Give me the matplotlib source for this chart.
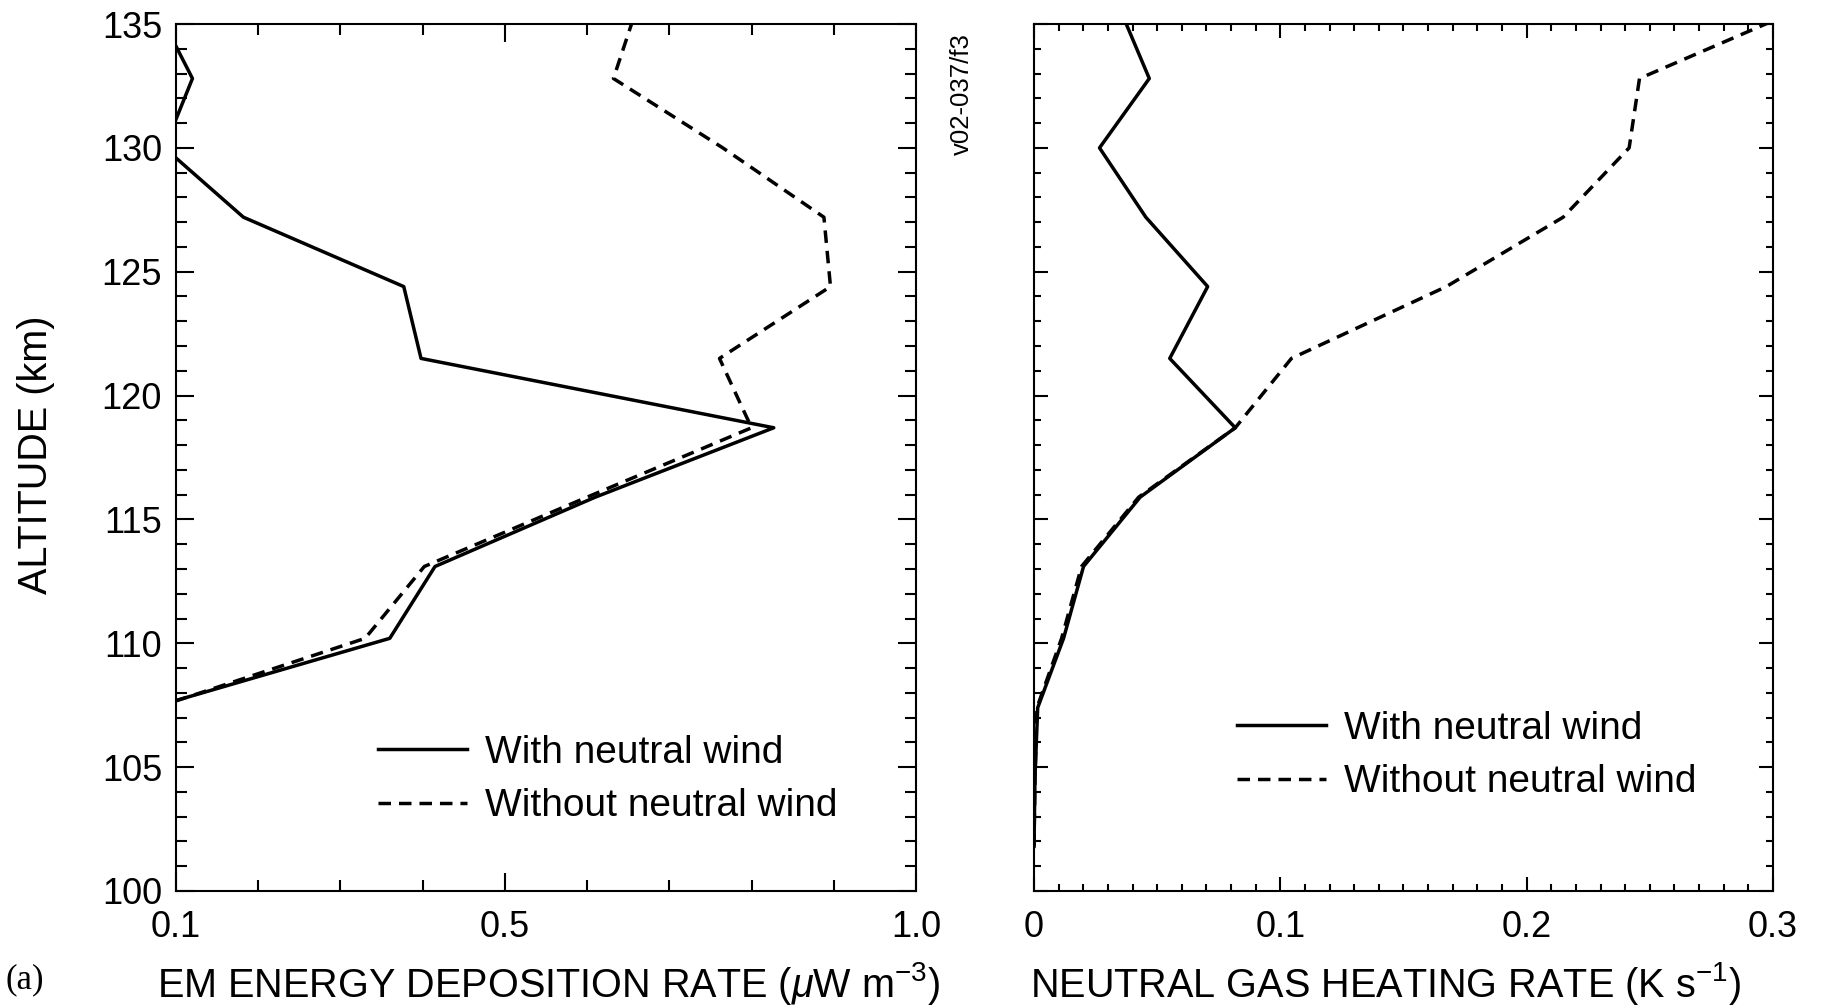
import matplotlib
matplotlib.use("Agg")
import matplotlib.pyplot as plt
from matplotlib.ticker import FixedLocator, MultipleLocator, FixedFormatter

plt.rcParams['font.family'] = ['Liberation Sans', 'DejaVu Sans']
plt.rcParams['mathtext.fontset'] = 'custom'
plt.rcParams['mathtext.rm'] = 'Liberation Sans'
plt.rcParams['mathtext.it'] = 'Liberation Sans:italic'

# altitude grid (km)
alt_em = [107.4, 110.2, 113.1, 115.9, 118.7, 121.5, 124.4, 127.2, 130.0, 132.8, 135.6]
alt_heat = [101.8, 104.6, 107.4, 110.2, 113.1, 115.9, 118.7, 121.5, 124.4, 127.2, 130.0, 132.8, 135.6]

# EM energy deposition rate (uW m-3)
em_wind = [0.07, 0.36, 0.415, 0.61, 0.827, 0.398, 0.377, 0.182, 0.086, 0.12, 0.077]
em_nowind = [0.075, 0.33, 0.402, 0.60, 0.80, 0.761, 0.896, 0.888, 0.765, 0.632, 0.66]

# neutral gas heating rate (K s-1)
heat_wind = [0.0, 0.0004, 0.0015, 0.012, 0.0201, 0.0431, 0.0817, 0.0551, 0.0705, 0.0454, 0.0266, 0.0468, 0.0349]
heat_nowind = [0.0, 0.0004, 0.0012, 0.0112, 0.0193, 0.0425, 0.0817, 0.1045, 0.1674, 0.2148, 0.2416, 0.2458, 0.311]

labels = ["With neutral wind", "Without neutral wind"]

W, H = 1833, 1006
fig = plt.figure(figsize=(W / 100, H / 100), dpi=100)

ax1 = fig.add_axes([176 / W, 1 - 891 / H, 740 / W, 867 / H])
ax2 = fig.add_axes([1034 / W, 1 - 891 / H, 739 / W, 867 / H])

lw = 2.5
dash = (0, (3.6, 2.3))
tick_fs = 26
label_fs = 28.5
leg_fs = 28

# left panel
ax1.plot(em_wind, alt_em, color='black', lw=lw, label=labels[0])
ax1.plot(em_nowind, alt_em, color='black', lw=lw, linestyle=dash, label=labels[1])
ax1.set_xlim(0.1, 1.0)
ax1.set_ylim(100, 135)
ax1.xaxis.set_major_locator(FixedLocator([0.1, 0.5, 1.0]))
ax1.xaxis.set_major_formatter(FixedFormatter(["0.1", "0.5", "1.0"]))
ax1.xaxis.set_minor_locator(FixedLocator([0.2, 0.3, 0.4, 0.6, 0.7, 0.8, 0.9]))
ax1.yaxis.set_major_locator(MultipleLocator(5))
ax1.yaxis.set_minor_locator(MultipleLocator(1))
ax1.tick_params(which='both', direction='in', top=True, right=True, width=1.5)
ax1.tick_params(which='major', length=13, labelsize=tick_fs)
ax1.tick_params(which='minor', length=8)
ax1.tick_params(axis='x', which='major', pad=14)
ax1.tick_params(axis='y', which='major', pad=10)
ax1.set_xlabel(r"EM ENERGY DEPOSITION RATE ($\mu$W m$^{-3}$)", fontsize=label_fs)
ax1.xaxis.set_label_coords(0.504, -0.08)
ax1.set_ylabel("ALTITUDE (km)", fontsize=label_fs)
ax1.yaxis.set_label_coords(-0.163, 0.503)
ax1.legend(loc='center left', bbox_to_anchor=(378 / W, 1 - 779.5 / H),
           bbox_transform=fig.transFigure, frameon=False, fontsize=leg_fs,
           handlelength=2.3, handletextpad=0.45, borderpad=0, borderaxespad=0,
           labelspacing=0.45)

# right panel
ax2.plot(heat_wind, alt_heat, color='black', lw=lw, label=labels[0])
ax2.plot(heat_nowind, alt_heat, color='black', lw=lw, linestyle=dash, label=labels[1])
ax2.set_xlim(0, 0.3)
ax2.set_ylim(100, 135)
ax2.xaxis.set_major_locator(FixedLocator([0, 0.1, 0.2, 0.3]))
ax2.xaxis.set_major_formatter(FixedFormatter(["0", "0.1", "0.2", "0.3"]))
ax2.xaxis.set_minor_locator(MultipleLocator(0.01))
ax2.yaxis.set_major_locator(MultipleLocator(5))
ax2.yaxis.set_minor_locator(MultipleLocator(1))
ax2.tick_params(which='both', direction='in', top=True, right=True, width=1.5)
ax2.tick_params(which='major', length=10, labelsize=tick_fs)
ax2.tick_params(which='minor', length=5)
ax2.tick_params(axis='x', which='major', pad=14)
ax2.tick_params(axis='y', labelleft=False)
ax2.set_xlabel(r"NEUTRAL GAS HEATING RATE (K s$^{-1}$)", fontsize=label_fs)
ax2.xaxis.set_label_coords(0.475, -0.08)
ax2.legend(loc='center left', bbox_to_anchor=(1237 / W, 1 - 755.5 / H),
           bbox_transform=fig.transFigure, frameon=False, fontsize=leg_fs,
           handlelength=2.3, handletextpad=0.45, borderpad=0, borderaxespad=0,
           labelspacing=0.45)

for ax in (ax1, ax2):
    for s in ax.spines.values():
        s.set_linewidth(1.5)

fig.text(962 / W, 1 - 94 / H, "v02-037/f3", rotation=90, fontsize=18.5,
         ha='center', va='center')
fig.text(6 / W, 1 - 980 / H, "(a)", fontsize=25, family='Liberation Serif',
         ha='left', va='center')

fig.savefig("out.png", dpi=100)
